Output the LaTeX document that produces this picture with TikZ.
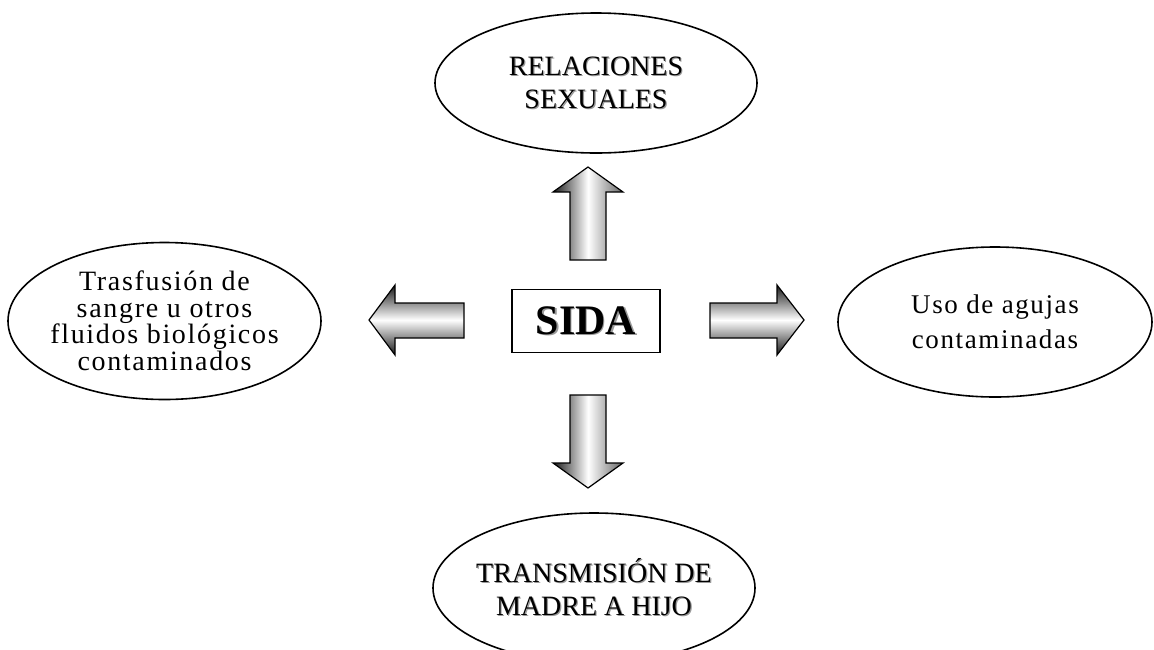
\documentclass[tikz,border=0pt]{standalone}
\usepackage{fontspec}
\setmainfont{Liberation Serif}
\newfontfamily\tracked[LetterSpace=6]{Liberation Serif}
\usetikzlibrary{shapes.geometric}
\newcommand\engr[1]{\makebox[0pt][l]{\kern1.2pt\raisebox{-1.2pt}{\color{black!40}#1}}#1}
\tikzset{
	oval/.style={ellipse, draw, line width=1.6pt, inner sep=-12pt, align=center},
	capsoval/.style={oval, minimum width=322, minimum height=140, font=\fontsize{28}{33}\selectfont},
	blockarrow/.style={draw, line width=1.2pt, line join=miter, shading=axis},
	vshade/.style={blockarrow, left color=black!90, right color=black!60, middle color=white},
	hshade/.style={blockarrow, top color=black!90, bottom color=black!90, middle color=white}
}

\begin{document}
\begin{tikzpicture}[x=1pt, y=-1pt]
		%%%%% START %%%%%
		\path[use as bounding box] (0, 0) rectangle (1154, 649);
		\clip (0, 0) rectangle (1154, 649);
		
		\node[draw, line width=1.5pt, minimum width=148, minimum height=63, font=\bfseries\fontsize{42}{42}\selectfont] (sida) at (586, 321) {\engr{SIDA}};
		
		\node[capsoval] (sexo) at (596, 83) {\engr{RELACIONES}\\\engr{SEXUALES}};
		\node[capsoval, minimum height=150] (madre) at (594, 588) {\engr{TRANSMISIÓN DE}\\\engr{MADRE A HIJO}};
		\node[oval, minimum width=313, minimum height=157, font=\tracked\fontsize{28}{26.5}\selectfont] (sangre) at (164.5, 321) {Trasfusión de\\sangre u otros\\fluidos biológicos\\contaminados};
		\node[oval, minimum width=314, minimum height=150, font=\tracked\fontsize{27}{35}\selectfont] (agujas) at (995, 322) {Uso de agujas\\contaminadas};
		
		% arrows
		\draw[vshade] (570, 260) -- (570, 192) -- (553, 192) -- (588, 167) -- (623, 192) -- (606, 192) -- (606, 260) -- cycle;
		\draw[vshade] (570, 395) -- (606, 395) -- (606, 463) -- (623, 463) -- (588, 488) -- (553, 463) -- (570, 463) -- cycle;
		\draw[hshade] (464, 303) -- (395, 303) -- (395, 285) -- (369, 320) -- (395, 355) -- (395, 338) -- (464, 338) -- cycle;
		\draw[hshade] (710, 303) -- (777, 303) -- (777, 285) -- (804, 320) -- (777, 355) -- (777, 338) -- (710, 338) -- cycle;
		
		%%%%% END %%%%%
	\end{tikzpicture}
\end{document}
